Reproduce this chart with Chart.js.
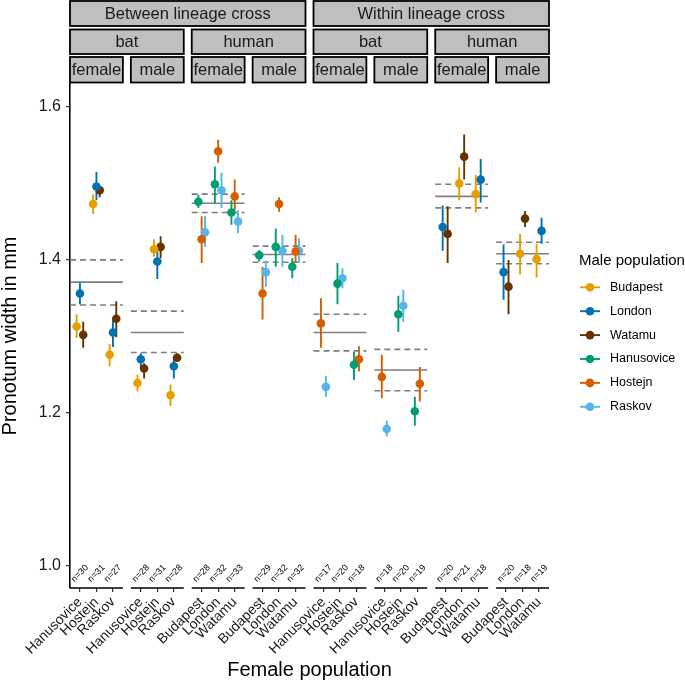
<!DOCTYPE html>
<html>
<head>
<meta charset="utf-8">
<script src="https://cdn.jsdelivr.net/npm/chart.js@4.4.1/dist/chart.umd.min.js"></script>
<style>
  html, body { margin: 0; padding: 0; background: #fff; }
  canvas { display: block; }
</style>
</head>
<body>
<canvas id="c" width="685" height="682"></canvas>
<script>
// facet strips
var crossNames = ['Between lineage cross', 'Within lineage cross'];
var lineageNames = ['bat', 'human', 'bat', 'human'];
var sexNames = ['female', 'male', 'female', 'male', 'female', 'male', 'female', 'male'];

// female population (x axis), 3 per panel, 8 panels
var femaleCats = [
  'Hanusovice', 'Hostejn', 'Raskov', 'Hanusovice', 'Hostejn', 'Raskov',
  'Budapest', 'London', 'Watamu', 'Budapest', 'London', 'Watamu',
  'Hanusovice', 'Hostejn', 'Raskov', 'Hanusovice', 'Hostejn', 'Raskov',
  'Budapest', 'London', 'Watamu', 'Budapest', 'London', 'Watamu'
];
var nLabels = [
  'n=30', 'n=31', 'n=27', 'n=28', 'n=31', 'n=28',
  'n=28', 'n=32', 'n=33', 'n=29', 'n=32', 'n=32',
  'n=17', 'n=20', 'n=18', 'n=18', 'n=20', 'n=19',
  'n=20', 'n=21', 'n=18', 'n=20', 'n=18', 'n=19'
];
var yTicks = [1.0, 1.2, 1.4, 1.6];

// male populations
var maleNames = ['Budapest', 'London', 'Watamu', 'Hanusovice', 'Hostejn', 'Raskov'];
var maleColors = ['#E69F00', '#0072B2', '#663300', '#009E73', '#D55E00', '#56B4E9'];

// one value per female-population slot (24), null where cross not present
var budapestMean = [1.313, 1.473, 1.276, 1.239, 1.414, 1.223, null, null, null, null, null, null, null, null, null, null, null, null, null, 1.500, 1.486, null, 1.408, 1.401];
var budapestLo   = [1.298, 1.460, 1.261, 1.228, 1.404, 1.209, null, null, null, null, null, null, null, null, null, null, null, null, null, 1.478, 1.462, null, 1.381, 1.377];
var budapestHi   = [1.329, 1.486, 1.290, 1.250, 1.427, 1.237, null, null, null, null, null, null, null, null, null, null, null, null, null, 1.521, 1.511, null, 1.434, 1.421];

var londonMean = [1.356, 1.496, 1.305, 1.270, 1.398, 1.261, null, null, null, null, null, null, null, null, null, null, null, null, 1.443, null, 1.505, 1.384, null, 1.438];
var londonLo   = [1.342, 1.478, 1.286, 1.260, 1.375, 1.245, null, null, null, null, null, null, null, null, null, null, null, null, 1.412, null, 1.475, 1.348, null, 1.421];
var londonHi   = [1.370, 1.515, 1.322, 1.278, 1.413, 1.274, null, null, null, null, null, null, null, null, null, null, null, null, 1.471, null, 1.532, 1.420, null, 1.455];

var watamuMean = [1.302, 1.491, 1.323, 1.258, 1.417, 1.272, null, null, null, null, null, null, null, null, null, null, null, null, 1.434, 1.535, null, 1.365, 1.454, null];
var watamuLo   = [1.285, 1.482, 1.299, 1.245, 1.402, 1.267, null, null, null, null, null, null, null, null, null, null, null, null, 1.396, 1.505, null, 1.329, 1.443, null];
var watamuHi   = [1.319, 1.496, 1.346, 1.265, 1.431, 1.278, null, null, null, null, null, null, null, null, null, null, null, null, 1.470, 1.564, null, 1.400, 1.464, null];

var hanusoviceMean = [null, null, null, null, null, null, 1.476, 1.499, 1.462, 1.406, 1.417, 1.391, null, 1.369, 1.263, null, 1.329, 1.202, null, null, null, null, null, null];
var hanusoviceLo   = [null, null, null, null, null, null, 1.468, 1.474, 1.446, 1.398, 1.391, 1.376, null, 1.342, 1.243, null, 1.306, 1.183, null, null, null, null, null, null];
var hanusoviceHi   = [null, null, null, null, null, null, 1.485, 1.522, 1.478, 1.413, 1.441, 1.402, null, 1.396, 1.280, null, 1.353, 1.221, null, null, null, null, null, null];

var hostejnMean = [null, null, null, null, null, null, 1.427, 1.542, 1.483, 1.356, 1.473, 1.411, 1.317, null, 1.270, 1.247, null, 1.238, null, null, null, null, null, null];
var hostejnLo   = [null, null, null, null, null, null, 1.396, 1.527, 1.465, 1.322, 1.463, 1.396, 1.285, null, 1.254, 1.219, null, 1.215, null, null, null, null, null, null];
var hostejnHi   = [null, null, null, null, null, null, 1.457, 1.557, 1.505, 1.391, 1.482, 1.433, 1.350, null, 1.287, 1.276, null, 1.260, null, null, null, null, null, null];

var raskovMean = [null, null, null, null, null, null, 1.436, 1.491, 1.450, 1.384, 1.412, 1.412, 1.234, 1.376, null, 1.179, 1.340, null, null, null, null, null, null, null];
var raskovLo   = [null, null, null, null, null, null, 1.417, 1.468, 1.435, 1.365, 1.391, 1.396, 1.221, 1.363, null, 1.169, 1.319, null, null, null, null, null, null, null];
var raskovHi   = [null, null, null, null, null, null, 1.457, 1.514, 1.465, 1.399, 1.433, 1.428, 1.248, 1.389, null, 1.190, 1.361, null, null, null, null, null, null, null];

// panel mean and interval (horizontal lines)
var panelMean = [1.371, 1.305, 1.474, 1.407, 1.305, 1.256, 1.483, 1.408];
var panelLo   = [1.341, 1.279, 1.462, 1.397, 1.281, 1.229, 1.468, 1.395];
var panelHi   = [1.400, 1.333, 1.486, 1.418, 1.329, 1.283, 1.499, 1.423];

var series = [
  { mean: budapestMean, lo: budapestLo, hi: budapestHi },
  { mean: londonMean, lo: londonLo, hi: londonHi },
  { mean: watamuMean, lo: watamuLo, hi: watamuHi },
  { mean: hanusoviceMean, lo: hanusoviceLo, hi: hanusoviceHi },
  { mean: hostejnMean, lo: hostejnLo, hi: hostejnHi },
  { mean: raskovMean, lo: raskovLo, hi: raskovHi }
];

var STEP = 3.684;   // panel pitch in x units (3.2 wide + gap)
var DODGE = 0.6;
var FONT = "'Liberation Sans', Arial, Helvetica, sans-serif";

function slotX(i) { return Math.floor(i / 3) * STEP + (i % 3) + 1; }
function panelLeft(p) { return p * STEP + 0.4; }
function panelRight(p) { return p * STEP + 3.6; }

function dodge(s, i) {
  var present = [];
  series.forEach(function (d, k) { if (d.mean[i] != null) present.push(k); });
  var n = present.length;
  var r = present.indexOf(s);
  return (r - (n - 1) / 2) * DODGE / n;
}

var tickVals = femaleCats.map(function (c, i) { return slotX(i); });

var datasets = [];
series.forEach(function (d, s) {
  var pts = [], bars = [];
  d.mean.forEach(function (m, i) {
    if (m == null) return;
    var x = slotX(i) + dodge(s, i);
    pts.push({ x: x, y: m });
    bars.push({ x: x, y: d.lo[i] }, { x: x, y: d.hi[i] }, { x: x, y: null });
  });
  datasets.push({
    label: maleNames[s] + ' CI', data: bars, showLine: true, spanGaps: false,
    borderColor: maleColors[s], borderWidth: 1.9, pointRadius: 0, order: 1
  });
  datasets.push({
    label: maleNames[s], data: pts, pointRadius: 4.3, pointHoverRadius: 4.3,
    backgroundColor: maleColors[s], borderWidth: 0, order: 0
  });
});

function hLines(vals) {
  var out = [];
  vals.forEach(function (v, p) {
    out.push({ x: panelLeft(p), y: v }, { x: panelRight(p), y: v }, { x: panelRight(p), y: null });
  });
  return out;
}
datasets.push({ label: 'mean', data: hLines(panelMean), showLine: true, spanGaps: false,
  borderColor: '#7f7f7f', borderWidth: 1.6, pointRadius: 0, order: 2 });
datasets.push({ label: 'lo', data: hLines(panelLo), showLine: true, spanGaps: false,
  borderColor: '#7f7f7f', borderWidth: 1.6, borderDash: [6, 4], pointRadius: 0, order: 2 });
datasets.push({ label: 'hi', data: hLines(panelHi), showLine: true, spanGaps: false,
  borderColor: '#7f7f7f', borderWidth: 1.6, borderDash: [6, 4], pointRadius: 0, order: 2 });

var facetPlugin = {
  id: 'facets',
  afterDraw: function (chart) {
    var ctx = chart.ctx, xs = chart.scales.x, ys = chart.scales.y, area = chart.chartArea;
    ctx.save();

    // strips
    function strip(x0, x1, y0, y1, text) {
      ctx.fillStyle = '#bfbfbf';
      ctx.fillRect(x0, y0, x1 - x0, y1 - y0);
      ctx.strokeStyle = '#000';
      ctx.lineWidth = 1.8;
      ctx.strokeRect(x0, y0, x1 - x0, y1 - y0);
      ctx.fillStyle = '#1a1a1a';
      ctx.font = '16.5px ' + FONT;
      ctx.textAlign = 'center';
      ctx.textBaseline = 'middle';
      ctx.fillText(text, (x0 + x1) / 2, (y0 + y1) / 2 + 1);
    }
    crossNames.forEach(function (t, k) {
      strip(xs.getPixelForValue(panelLeft(k * 4)), xs.getPixelForValue(panelRight(k * 4 + 3)), 1, 26, t);
    });
    lineageNames.forEach(function (t, k) {
      strip(xs.getPixelForValue(panelLeft(k * 2)), xs.getPixelForValue(panelRight(k * 2 + 1)), 29.5, 54, t);
    });
    sexNames.forEach(function (t, k) {
      strip(xs.getPixelForValue(panelLeft(k)), xs.getPixelForValue(panelRight(k)), 57, 82.5, t);
    });

    // x axis line, one per panel
    ctx.strokeStyle = '#000';
    ctx.lineWidth = 1.6;
    for (var p = 0; p < 8; p++) {
      ctx.beginPath();
      ctx.moveTo(xs.getPixelForValue(panelLeft(p)), area.bottom);
      ctx.lineTo(xs.getPixelForValue(panelRight(p)), area.bottom);
      ctx.stroke();
    }

    // sample sizes
    ctx.fillStyle = '#000';
    ctx.font = '9px ' + FONT;
    ctx.textAlign = 'center';
    ctx.textBaseline = 'middle';
    nLabels.forEach(function (t, i) {
      ctx.save();
      ctx.translate(xs.getPixelForValue(slotX(i)), ys.getPixelForValue(0.99));
      ctx.rotate(-Math.PI / 4);
      ctx.fillText(t, 0, 0);
      ctx.restore();
    });

    // legend
    ctx.textAlign = 'left';
    ctx.fillStyle = '#000';
    ctx.font = '15px ' + FONT;
    ctx.fillText('Male population', 579, 261);
    ctx.font = '12.5px ' + FONT;
    maleNames.forEach(function (name, k) {
      var y = 287.3 + k * 23.9;
      ctx.strokeStyle = maleColors[k];
      ctx.lineWidth = 1.9;
      ctx.beginPath();
      ctx.moveTo(580, y);
      ctx.lineTo(600, y);
      ctx.stroke();
      ctx.fillStyle = maleColors[k];
      ctx.beginPath();
      ctx.arc(590, y, 4.3, 0, Math.PI * 2);
      ctx.fill();
      ctx.fillStyle = '#000';
      ctx.fillText(name, 610, y);
    });
    ctx.restore();
  }
};

new Chart(document.getElementById('c'), {
  type: 'scatter',
  data: { datasets: datasets },
  options: {
    responsive: false,
    animation: false,
    events: [],
    layout: { padding: { top: 84, right: 136, bottom: 0, left: 0 } },
    plugins: { legend: { display: false }, tooltip: { enabled: false } },
    scales: {
      x: {
        type: 'linear',
        min: 0.4,
        max: 7 * STEP + 3.6,
        afterBuildTicks: function (s) { s.ticks = tickVals.map(function (v) { return { value: v }; }); },
        afterFit: function (s) { s.height = 94; },
        ticks: {
          autoSkip: false, minRotation: 45, maxRotation: 45, padding: 2,
          color: '#1a1a1a', font: { family: FONT, size: 14 },
          callback: function (v, i) { return femaleCats[i]; }
        },
        grid: { drawOnChartArea: false, drawTicks: true, tickLength: 4, color: '#333', lineWidth: 1.2 },
        border: { display: false },
        title: { display: true, text: 'Female population', color: '#000',
          font: { family: FONT, size: 20, lineHeight: 1.2 }, padding: 0 }
      },
      y: {
        min: 0.971,
        max: 1.630,
        afterBuildTicks: function (s) { s.ticks = yTicks.map(function (v) { return { value: v }; }); },
        afterFit: function (s) { s.width = 70; },
        ticks: {
          padding: 5, color: '#1a1a1a', font: { family: FONT, size: 16 },
          callback: function (v) { return v.toFixed(1); }
        },
        grid: { drawOnChartArea: false, drawTicks: true, tickLength: 4, color: '#333', lineWidth: 1.2 },
        border: { display: true, color: '#000', width: 1.6 },
        title: { display: true, text: 'Pronotum width in mm', color: '#000',
          font: { family: FONT, size: 20, lineHeight: 1 }, padding: 0 }
      }
    }
  },
  plugins: [facetPlugin]
});
</script>
</body>
</html>
